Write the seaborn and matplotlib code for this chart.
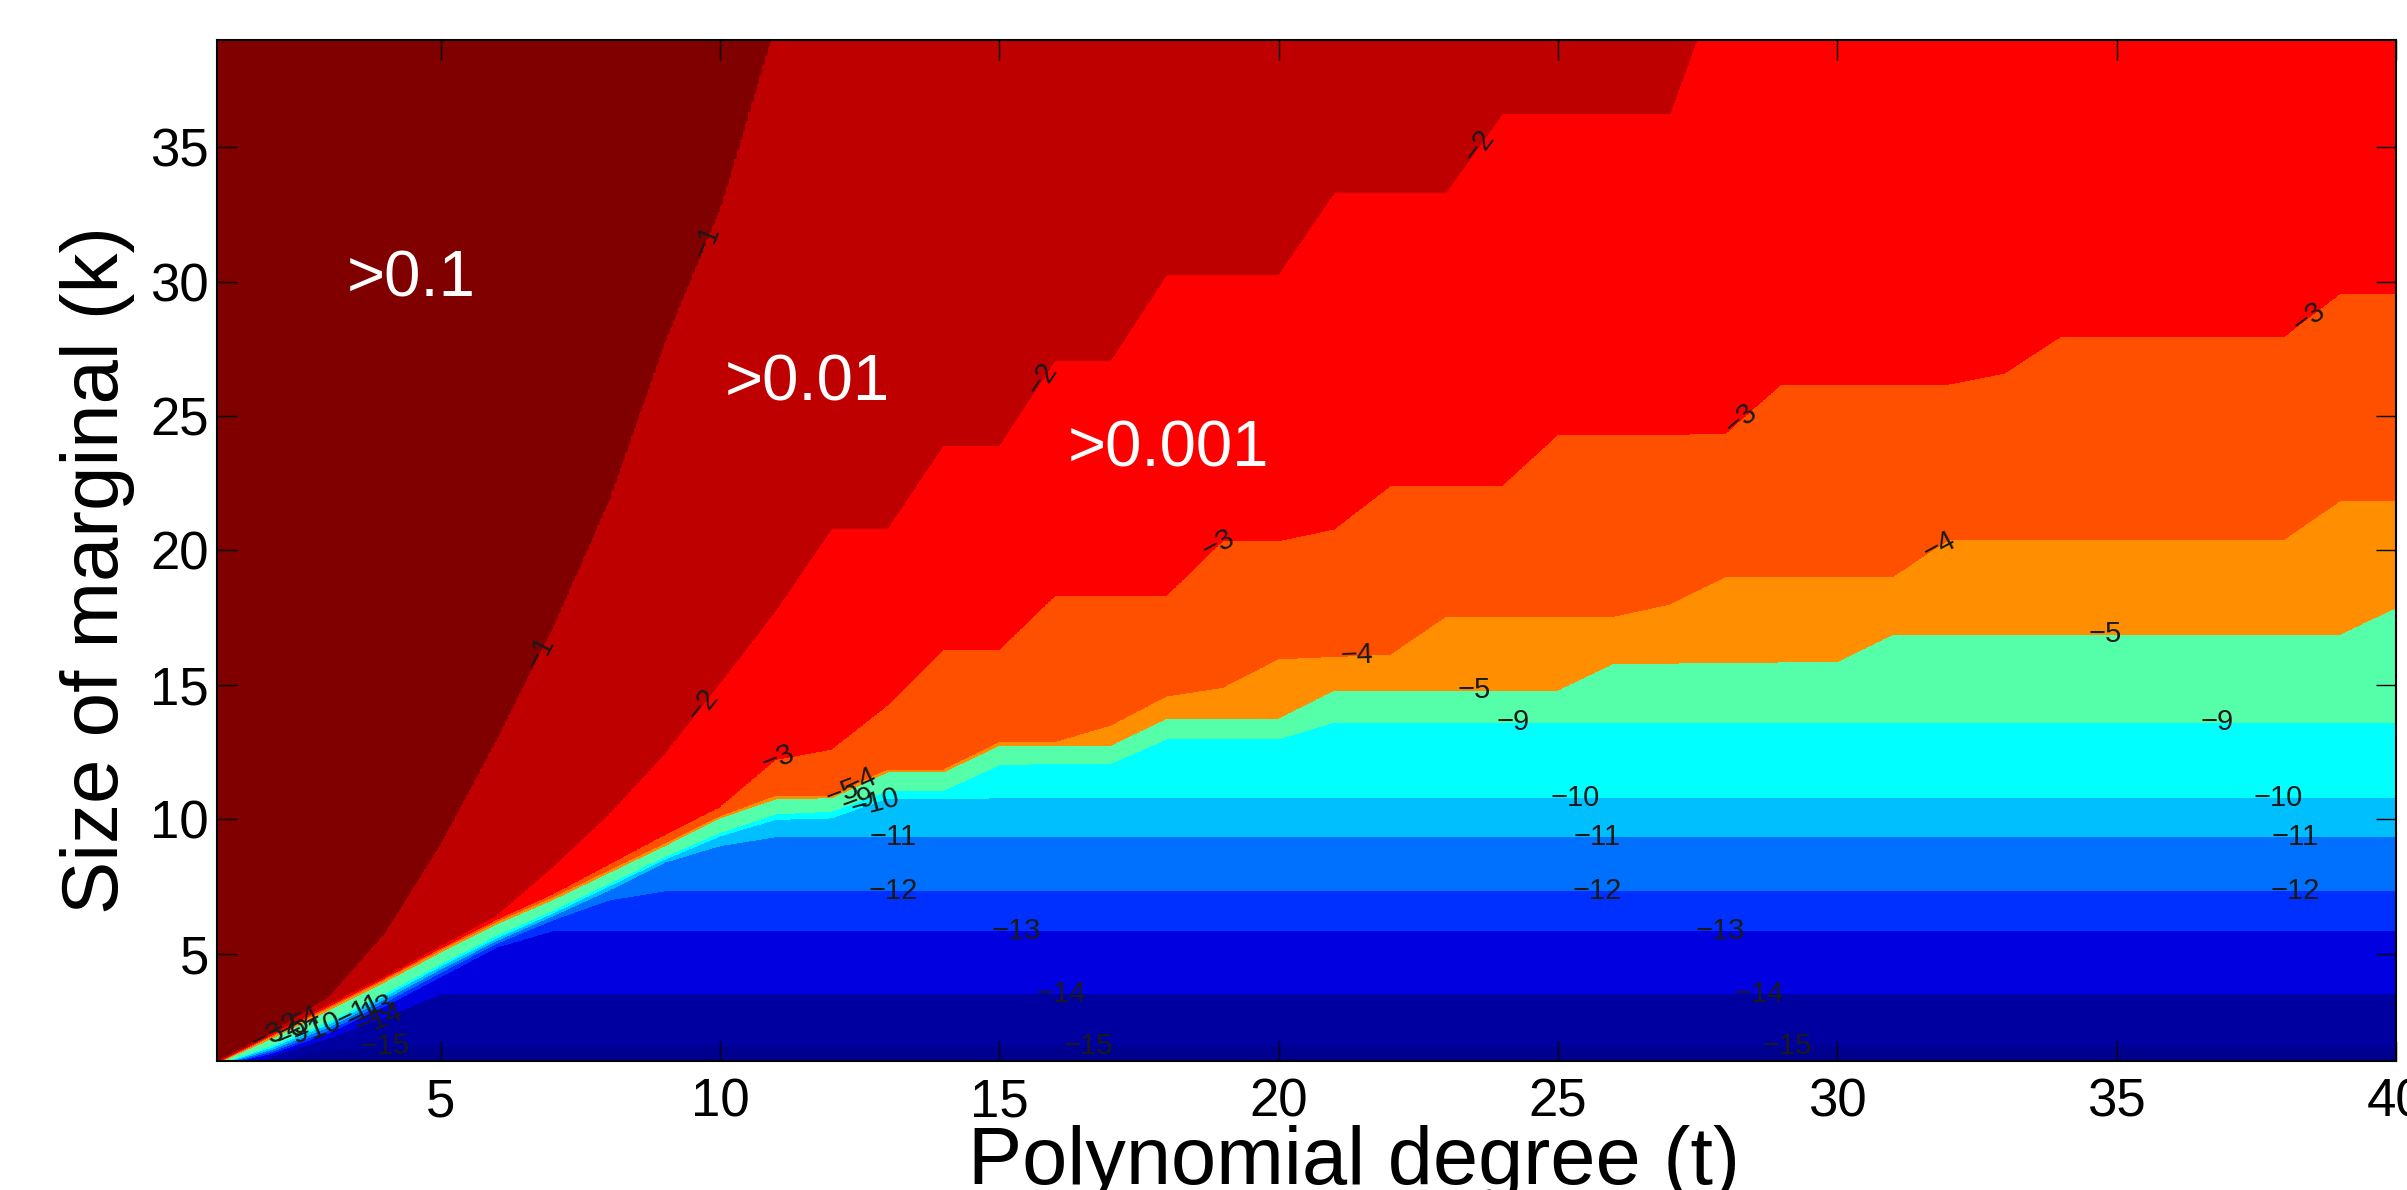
import numpy as np
import matplotlib
matplotlib.use("Agg")
import matplotlib.pyplot as plt
import seaborn as sns

# polynomial degrees t of the original grid
degrees = np.arange(1, 41)

# contour levels of log10(error) that were drawn
levels = [-15, -14, -13, -12, -11, -10, -9, -5, -4, -3, -2, -1]

# k where each level is crossed, one value per degree t = 1..40 (read off the figure;
# values above 39 mean the level lies above the plotted range)
k_m15 = [0.0, 1.0, 1.4] + [1.54] * 37
k_m14 = [0.4, 1.2, 1.85, 2.64] + [3.5] * 36
k_m13 = [0.8, 1.3, 2.05, 3.05, 4.15, 5.25] + [5.85] * 34
k_m12 = [0.82, 1.37, 2.15, 3.18, 4.3, 5.38, 6.25, 6.99] + [7.33] * 32
k_m11 = [0.84, 1.45, 2.27, 3.3, 4.42, 5.48, 6.4, 7.35, 8.4, 9.02] + [9.35] * 30
k_m10 = [0.86, 1.53, 2.38, 3.42, 4.53, 5.58, 6.5, 7.5, 8.5, 9.38,
         10.0, 10.05] + [10.79] * 28
k_m9 = [0.88, 1.6, 2.48, 3.52, 4.62, 5.68, 6.6, 7.6, 8.6, 9.5,
        10.2, 10.3, 11.08, 11.08, 12.03, 12.09, 12.09, 13.0, 13.0, 13.0] + [13.62] * 20
k_m5 = [0.92, 1.87, 2.9, 3.95, 5.05, 6.1, 7.0, 8.0, 9.0, 10.05,
        10.76, 10.8, 11.76, 11.76, 12.75, 12.75, 12.75, 13.75, 13.75, 13.75,
        14.8, 14.8, 14.8, 14.8, 14.8, 15.8, 15.8, 15.83, 15.85, 15.85,
        16.88, 16.88, 16.88, 16.88, 16.88, 16.88, 16.88, 16.88, 16.88, 17.86]
k_m4 = [0.94, 1.95, 3.0, 4.05, 5.15, 6.2, 7.1, 8.1, 9.1, 10.12,
        10.88, 10.88, 11.85, 11.85, 12.88, 12.88, 13.5, 14.58, 14.9, 15.97,
        16.05, 16.13, 17.55, 17.55, 17.55, 17.55, 18.0, 19.03, 19.03, 19.03,
        19.03, 20.42, 20.42, 20.42, 20.42, 20.42, 20.42, 20.42, 21.85, 21.85]
k_m3 = [0.96, 2.0, 3.06, 4.1, 5.2, 6.27, 7.2, 8.3, 9.4, 10.45,
        12.22, 12.6, 14.24, 16.31, 16.31, 18.33, 18.33, 18.33, 20.36, 20.36,
        20.8, 22.41, 22.41, 22.41, 24.32, 24.32, 24.32, 24.35, 26.19, 26.19,
        26.19, 26.19, 26.6, 27.97, 27.97, 27.97, 27.97, 27.97, 29.56, 29.56]
k_m2 = [0.98, 2.05, 3.12, 4.15, 5.28, 6.4, 8.2, 10.15, 12.4, 15.05,
        17.75, 20.8, 20.8, 23.9, 23.9, 27.08, 27.08, 30.28, 30.28, 30.28,
        33.34, 33.34, 33.34, 36.25, 36.25, 36.25, 36.25] + [42.0] * 13
k_m1 = [1.0, 2.1, 3.4, 5.8, 9.15, 13.04, 17.2, 21.9, 27.8, 32.85, 39.8] + [46.0] * 29

band_colors = ["#00008F", "#0000A0", "#0000E0", "#0030FF", "#0070FF", "#00BFFF",
               "#00FFFF", "#55FFAA", "#FF8F00", "#FF5000", "#FF0000", "#BF0000", "#800000"]

# white region annotations
region_texts = [">0.1", ">0.01", ">0.001"]
region_t = [4.48, 11.57, 18.02]
region_k = [29.45, 25.6, 23.13]

# where the contour labels sit (level, t, k)
label_levels = [-1, -1, -2, -2, -2, -3, -3, -3, -3, -4, -4, -4, -5, -5, -5,
                -9, -9, -9, -10, -10, -10, -11, -11, -11, -12, -12, -12,
                -13, -13, -14, -14, -15, -15, -15,
                -3, -2, -9, -5, -4, -10, -11, -13, -14]
label_t = [9.75, 6.79, 23.5, 15.75, 9.7, 38.4, 28.2, 18.9, 11.05, 31.8, 21.4, 12.5,
           34.8, 23.5, 12.2, 24.2, 36.8, 12.5, 25.3, 37.9, 12.8, 25.7, 38.2, 13.1,
           25.7, 38.2, 13.1, 27.9, 15.3, 28.6, 16.1, 29.1, 16.6, 4.0,
           1.9, 2.2, 2.35, 2.4, 2.55, 2.75, 3.55, 3.7, 3.85]
label_k = [31.5, 16.2, 35.2, 26.4, 14.2, 28.8, 25.1, 20.3, 12.2, 20.25, 16.2, 11.4,
           17.0, 14.9, 10.9, 13.6, 13.6, 10.5, 10.8, 10.8, 10.4, 9.35, 9.35, 9.35,
           7.33, 7.33, 7.33, 5.85, 5.85, 3.5, 3.5, 1.54, 1.54, 1.54,
           1.95, 2.2, 1.9, 2.1, 2.5, 2.4, 2.8, 3.0, 2.9]


def build_field(t_fine, k_fine):
    """Turn the level crossings into a log-error grid that contourf can use."""
    crossings = [k_m15, k_m14, k_m13, k_m12, k_m11, k_m10, k_m9,
                 k_m5, k_m4, k_m3, k_m2, k_m1]
    z = np.empty((len(k_fine), len(t_fine)))
    for j, t in enumerate(t_fine):
        ks = [float(np.interp(t, degrees, c)) for c in crossings]
        xp = [ks[0] - 1.0] + ks + [ks[-1] + 1.0]
        fp = [-16] + levels + [0]
        z[:, j] = np.interp(k_fine, xp, fp)
    return z


def fmt_level(v):
    return "\u2212%d" % abs(int(round(v)))


t_fine = np.linspace(1, 40, 781)
k_fine = np.linspace(0.5, 39.5, 1561)
Z = build_field(t_fine, k_fine)
T, K = np.meshgrid(t_fine, k_fine)

sns.set_theme(style="ticks")
plt.rcParams["font.family"] = ["Liberation Sans", "DejaVu Sans"]

fig = plt.figure(figsize=(24.07, 11.90), dpi=100)
ax = fig.add_axes([0.0902, 0.1084, 0.9052, 0.858])

ax.contourf(T, K, Z, levels=[-16] + levels + [0],
            colors=sns.color_palette(band_colors))

# one invisible line set per level, so each label lands on its own level
line_sets = {lev: ax.contour(T, K, Z, levels=[lev], linewidths=0) for lev in levels}
for lev, t, k in zip(label_levels, label_t, label_k):
    ax.clabel(line_sets[lev], manual=[(t, k)], inline=False,
              fontsize=21, colors="k", fmt=fmt_level)

for s, t, k in zip(region_texts, region_t, region_k):
    ax.text(t, k, s, color="white", fontsize=47, ha="center", va="baseline")

ax.set_xlim(1, 40)
ax.set_ylim(1, 39)
ax.set_xticks([5, 10, 15, 20, 25, 30, 35, 40])
ax.set_yticks([5, 10, 15, 20, 25, 30, 35])
ax.tick_params(direction="in", length=14.4, width=1.0, color="black",
               top=True, right=True, labelsize=38, labelcolor="black")
ax.tick_params(axis="x", pad=12)
ax.tick_params(axis="y", pad=6)
for sp in ax.spines.values():
    sp.set_color("black")
    sp.set_linewidth(1.5)
ax.set_axisbelow(False)

ax.set_xlabel("Polynomial degree (t)", fontsize=58.5, color="black")
ax.xaxis.set_label_coords(0.5218, -0.1205)
ax.xaxis.label.set_va("baseline")
ax.set_ylabel("Size of marginal (k)", fontsize=57.5, color="black")
ax.yaxis.set_label_coords(-0.0454, 0.481)
ax.yaxis.label.set_va("baseline")

fig.savefig("out.png", dpi=100)
